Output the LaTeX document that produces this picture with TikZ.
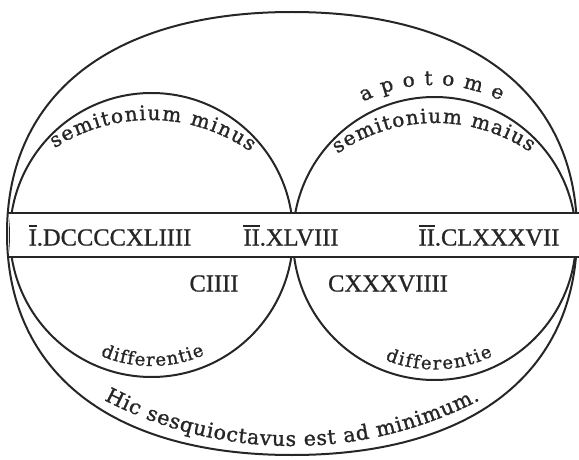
\documentclass[tikz,border=0pt]{standalone}
\usepackage{fontspec}
\setmainfont{Liberation Serif}
\newfontfamily\numfont[FakeBold=0.8]{Liberation Serif}
\newfontfamily\arcfont[FakeBold=1.2]{DejaVu Serif}
\usetikzlibrary{decorations.text}
\newcommand\ovl[1]{\vbox{\hrule height 1.6pt\kern 2.4pt\hbox{#1}}}
\newcommand\arcsz[1]{\arcfont\fontsize{#1}{#1}\selectfont}
\begin{document}
\begin{tikzpicture}[x=1pt,y=1pt,line width=2pt,
  ink/.style={draw=black!85},
  numtext/.style={font=\numfont\fontsize{24.5}{24.5}\selectfont,inner sep=0pt,anchor=base,text=black!85},
  curvetext/.style={decorate,decoration={text along path,text align={fit to path},text color=black!85,text={#1}}}]
\useasboundingbox (0,0) rectangle (579,459);
% inner circles
\draw[ink] (151.5,224) ellipse [x radius=141.5,y radius=142];
\draw[ink] (434.5,220.5) ellipse [x radius=141.5,y radius=141.5];
% outer shape
\draw[ink] (577,225.5) .. controls (577,365) and (471.6,447) .. (292,447)
  .. controls (112.4,447) and (7,365) .. (7,225.5)
  .. controls (7,86) and (112.4,4) .. (292,4)
  .. controls (471.6,4) and (577,86) .. cycle;
% band
\fill[white] (10,202) rectangle (579,246.5);
\draw[ink] (7.5,246.5) -- (579,246.5);
\draw[ink] (7.5,202) -- (579,202);
% numerals
\node[numtext] (n1) at (110,213.5) {\ovl{I}.DCCCCXLIIII};
\node[numtext] (n2) at (291,213.5) {\ovl{II}.XLVIII};
\node[numtext] (n3) at (489,213.5) {\ovl{II}.CLXXXVII};
\node[numtext] (d1) at (214,167.5) {CIIII};
\node[numtext] (d2) at (388,167.5) {CXXXVIIII};
% curved texts
\path[curvetext={|\arcsz{20}|apotome}] (433,220) ++(117:154) arc[start angle=117,end angle=64,radius=154];
\path[curvetext={|\arcsz{20}|semitonium maius}] (435,166) ++(125:170) arc[start angle=125,end angle=56,radius=170];
\path[curvetext={|\arcsz{20}|semitonium minus}] (150,164) ++(123:175) arc[start angle=123,end angle=55,radius=175];
\path[curvetext={|\arcsz{18}|differentie}] (151.5,224) ++(-113:131) arc[start angle=-113,end angle=-66,radius=131];
\path[curvetext={|\arcsz{18}|differentie}] (434.5,220.5) ++(-112.2:131) arc[start angle=-112.2,end angle=-63.5,radius=131];
\path[curvetext={|\arcsz{20.5}|Hic sesquioctavus est ad minimum.}] (292,420) ++(-117.5:407) arc[start angle=-117.5,end angle=-62.5,radius=407];
\end{tikzpicture}
\end{document}
